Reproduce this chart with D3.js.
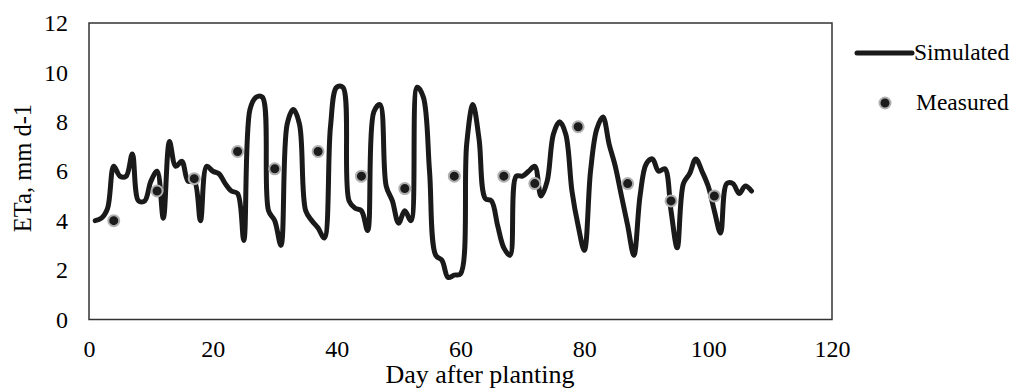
<!DOCTYPE html>
<html><head><meta charset="utf-8">
<script src="https://cdn.jsdelivr.net/npm/d3@7"></script>
<style>body{margin:0;background:#fff}svg{display:block}text{font-family:"Liberation Serif","Times New Roman",serif;fill:#000}</style>
</head><body><svg id="c" width="1013" height="389"></svg>
<script>
const simDays = d3.range(1, 108);
const simValues = [4.0,4.1,4.5,6.2,5.8,5.8,6.7,4.8,4.8,5.6,6.0,4.1,7.2,6.2,6.4,5.6,5.6,4.0,6.2,6.0,5.9,5.5,5.2,5.1,3.2,8.5,9.0,9.0,4.4,4.0,3.0,7.9,8.5,7.9,4.4,4.0,3.7,3.3,7.8,9.4,
9.4,4.8,4.5,4.4,3.6,8.4,8.7,5.4,4.8,3.9,4.4,4.0,9.4,9.0,6.0,2.6,2.4,1.7,1.8,1.85,7.1,8.7,7.3,4.9,4.8,3.8,2.9,2.6,5.8,5.8,6.0,6.2,5.0,5.6,7.5,8.0,7.5,5.2,3.8,2.8,
6.0,7.7,8.2,7.1,6.2,5.0,3.8,2.6,5.0,6.3,6.5,6.0,6.1,4.4,2.9,5.5,5.9,6.5,6.0,5.4,4.4,3.5,5.5,5.5,5.1,5.4,5.2];
const measDays = [4,11,17,24,30,37,44,51,59,67,72,79,87,94,101];
const measValues = [4.0,5.2,5.7,6.8,6.1,6.8,5.8,5.3,5.8,5.8,5.5,7.8,5.5,4.8,5.0];
const xTicks = [0,20,40,60,80,100,120];
const yTicks = [0,2,4,6,8,10,12];

const svg = d3.select("#c");
const L=89,R=832,T=23,B=319.5;
const x = d3.scaleLinear().domain([0,120]).range([L,R]);
const y = d3.scaleLinear().domain([0,12]).range([B,T]);

svg.append("rect").attr("x",L).attr("y",T).attr("width",R-L).attr("height",B-T)
  .attr("fill","none").attr("stroke","#333").attr("stroke-width",1.5);

const xa = svg.append("g").attr("transform",`translate(0,${B})`)
  .call(d3.axisBottom(x).tickValues(xTicks).tickSize(0).tickPadding(20));
xa.select(".domain").remove();
xa.selectAll("text").style("font-family",'"Liberation Serif",serif').style("font-size","24px").attr("fill","#000");
const ya = svg.append("g").attr("transform",`translate(${L},0)`)
  .call(d3.axisLeft(y).tickValues(yTicks).tickSize(0).tickPadding(21));
ya.select(".domain").remove();
ya.selectAll("text").style("font-family",'"Liberation Serif",serif').style("font-size","24px").attr("fill","#000");

const line = d3.line().x((d,i)=>x(simDays[i])).y(d=>y(d)).curve(d3.curveCatmullRom.alpha(0.5));
svg.append("path").datum(simValues).attr("d",line).attr("fill","none")
  .attr("stroke","#1a1a1a").attr("stroke-width",5).attr("stroke-linejoin","round").attr("stroke-linecap","round");

svg.selectAll("circle.m").data(measValues).join("circle").attr("class","m")
  .attr("cx",(d,i)=>x(measDays[i])).attr("cy",d=>y(d)).attr("r",5.5)
  .attr("fill","#1c1c1c").attr("stroke","#b0b0b0").attr("stroke-width",2);

svg.append("text").attr("x",480).attr("y",383).attr("text-anchor","middle").style("font-size","26px").text("Day after planting");
svg.append("text").attr("transform","translate(31,168) rotate(-90)").attr("text-anchor","middle").style("font-size","24.5px").text("ETa, mm d-1");

// legend
svg.append("line").attr("x1",857).attr("x2",912).attr("y1",53).attr("y2",53).attr("stroke","#1a1a1a").attr("stroke-width",5).attr("stroke-linecap","round");
svg.append("text").attr("x",914).attr("y",60).style("font-size","23.5px").text("Simulated");
svg.append("circle").attr("cx",885).attr("cy",103).attr("r",5.5).attr("fill","#1c1c1c").attr("stroke","#b0b0b0").attr("stroke-width",2);
svg.append("text").attr("x",916).attr("y",110).style("font-size","23.5px").text("Measured");
</script></body></html>
